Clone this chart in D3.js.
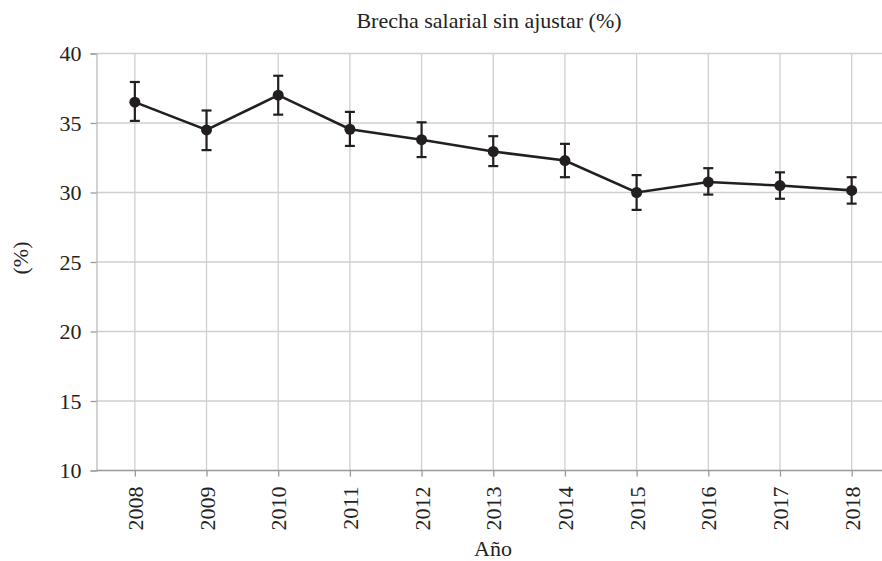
<!DOCTYPE html>
<html lang="es">
<head>
  <meta charset="UTF-8">
  <title>Brecha salarial</title>
  <script src="https://d3js.org/d3.v7.min.js"></script>
  <style>
    body { margin: 0; background: #fff; }
  </style>
</head>
<body>
  <div class="chart"></div>
  <script>
    const years = [2008, 2009, 2010, 2011, 2012, 2013, 2014, 2015, 2016, 2017, 2018];
    const brecha = [36.5, 34.5, 37.0, 34.55, 33.8, 32.95, 32.3, 30.0, 30.75, 30.5, 30.15];
    const lower = [35.15, 33.05, 35.6, 33.35, 32.55, 31.9, 31.1, 28.75, 29.85, 29.55, 29.2];
    const upper = [37.95, 35.9, 38.4, 35.8, 35.05, 34.05, 33.5, 31.25, 31.75, 31.45, 31.1];
    const yTicks = [10, 15, 20, 25, 30, 35, 40];

    const width = 882, height = 561;
    const plotLeft = 96.5, plotRight = 890, plotTop = 53.5, plotBottom = 470.5;
    const serif = '"Liberation Serif", "Times New Roman", "DejaVu Serif", serif';

    const svg = d3.select('.chart').append('svg')
      .attr('width', width).attr('height', height);

    const x = d3.scalePoint().domain(years).range([plotLeft, plotRight]).padding(0.535);
    const y = d3.scaleLinear().domain([10, 40]).range([plotBottom, plotTop]);

    // rejilla
    svg.append('g').selectAll('line')
      .data(yTicks.slice(1))
      .join('line')
      .attr('x1', plotLeft).attr('x2', plotRight)
      .attr('y1', d => y(d)).attr('y2', d => y(d))
      .attr('stroke', '#cfcfcf').attr('stroke-width', 1.3);

    svg.append('g').selectAll('line')
      .data(years)
      .join('line')
      .attr('x1', d => x(d)).attr('x2', d => x(d))
      .attr('y1', plotTop).attr('y2', plotBottom)
      .attr('stroke', '#cfcfcf').attr('stroke-width', 1.3);

    // ejes
    const yAxis = svg.append('g')
      .attr('transform', `translate(${plotLeft},0)`)
      .call(d3.axisLeft(y).tickValues(yTicks).tickSize(6).tickPadding(9));
    yAxis.select('.domain').attr('stroke', '#bbb').attr('stroke-width', 1.3);
    yAxis.selectAll('.tick line').attr('stroke', '#999').attr('stroke-width', 1.3);
    yAxis.selectAll('.tick text')
      .style('font-family', serif).style('font-size', '22px').attr('fill', '#222');

    const xAxis = svg.append('g')
      .attr('transform', `translate(0,${plotBottom})`)
      .call(d3.axisBottom(x).tickSize(6).tickSizeOuter(0));
    xAxis.select('.domain').attr('stroke', '#999').attr('stroke-width', 1.3)
      .attr('d', `M${plotLeft},0H${plotRight}`);
    xAxis.selectAll('.tick line').attr('stroke', '#999').attr('stroke-width', 1.3);
    xAxis.selectAll('.tick text')
      .style('font-family', serif).style('font-size', '22px').attr('fill', '#222')
      .attr('transform', 'rotate(-90)')
      .attr('text-anchor', 'end')
      .attr('dy', '0.35em')
      .attr('x', -16).attr('y', 0);

    // barras de error
    const err = svg.append('g').attr('stroke', '#231f20').attr('stroke-width', 2.2);
    years.forEach((yr, i) => {
      const cx = x(yr);
      err.append('line').attr('x1', cx).attr('x2', cx).attr('y1', y(lower[i])).attr('y2', y(upper[i]));
      err.append('line').attr('x1', cx - 5).attr('x2', cx + 5).attr('y1', y(lower[i])).attr('y2', y(lower[i]));
      err.append('line').attr('x1', cx - 5).attr('x2', cx + 5).attr('y1', y(upper[i])).attr('y2', y(upper[i]));
    });

    // serie
    const line = d3.line().x((d, i) => x(years[i])).y(d => y(d));
    svg.append('path')
      .datum(brecha)
      .attr('d', line)
      .attr('fill', 'none')
      .attr('stroke', '#231f20')
      .attr('stroke-width', 2.6);

    svg.append('g').selectAll('circle')
      .data(brecha)
      .join('circle')
      .attr('cx', (d, i) => x(years[i]))
      .attr('cy', d => y(d))
      .attr('r', 5.5)
      .attr('fill', '#231f20');

    // textos
    svg.append('text')
      .attr('x', 489).attr('y', 28)
      .attr('text-anchor', 'middle')
      .style('font-family', serif).style('font-size', '22px').attr('fill', '#222')
      .text('Brecha salarial sin ajustar (%)');

    svg.append('text')
      .attr('x', 493).attr('y', 556)
      .attr('text-anchor', 'middle')
      .style('font-family', serif).style('font-size', '22px').attr('fill', '#222')
      .text('Año');

    svg.append('text')
      .attr('transform', 'translate(28,258) rotate(-90)')
      .attr('text-anchor', 'middle')
      .style('font-family', serif).style('font-size', '22px').attr('fill', '#222')
      .text('(%)');
  </script>
</body>
</html>
